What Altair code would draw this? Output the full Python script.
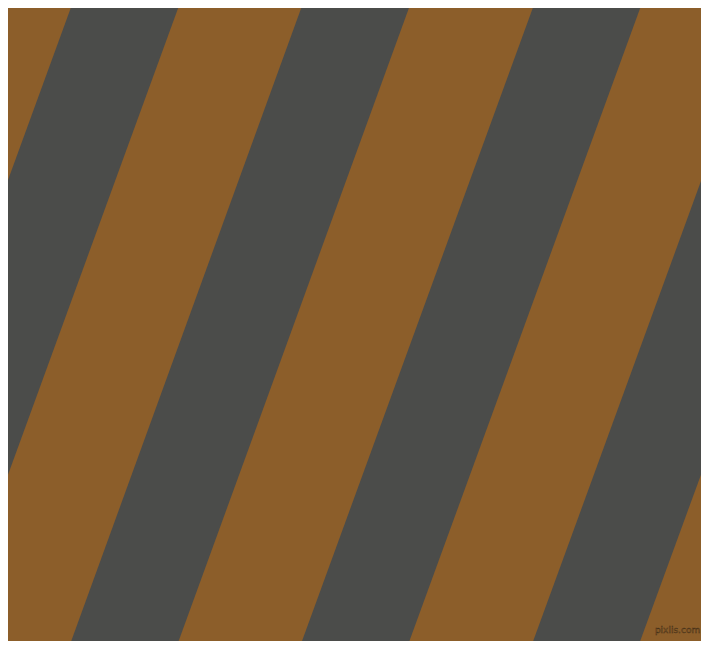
import altair as alt
import pandas as pd

# Gray stripe boundaries (pixel space of the picture), read at top (y=0) and bottom (y=649)
stripe_id = ["B", "C", "D", "E"]
left_top = [64.2, 300.0, 536.9, 773.6]
right_top = [174.1, 410.2, 646.8, 883.5]
left_bottom = [-172.2, 64.7, 300.8, 537.3]
right_bottom = [-62.0, 174.6, 410.7, 646.8]
y_top = 0
y_bottom = 649

BROWN = "#8C5E2A"
GRAY = "#4B4C4A"

rows = []
for i, s in enumerate(stripe_id):
    rows.append({"stripe": s, "y": y_top, "x": left_top[i], "x2": right_top[i]})
    rows.append({"stripe": s, "y": y_bottom, "x": left_bottom[i], "x2": right_bottom[i]})
df = pd.DataFrame(rows)

wm_text = ["pixlis.com"]
wm_x = [685]
wm_y = [638]
wm = pd.DataFrame({"t": wm_text, "x": wm_x, "y": wm_y})

xs = alt.Scale(domain=[0, 709], nice=False, zero=False)
ys = alt.Scale(domain=[0, 649], nice=False, zero=False, reverse=True)

stripes = alt.Chart(df).mark_area(orient="horizontal", color=GRAY, clip=True).encode(
    y=alt.Y("y:Q", scale=ys, axis=None),
    x=alt.X("x:Q", scale=xs, axis=None),
    x2="x2:Q",
    detail="stripe:N",
)

mark = alt.Chart(wm).mark_text(
    font="DejaVu Sans", fontSize=9, fill=BROWN, stroke="#3e2c16", strokeWidth=0.4,
    align="center", baseline="middle", clip=True,
).encode(
    x=alt.X("x:Q", scale=xs, axis=None),
    y=alt.Y("y:Q", scale=ys, axis=None),
    text="t:N",
)

chart = (stripes + mark).properties(
    width=693, height=633, padding=0, background=BROWN,
    autosize=alt.AutoSizeParams(type="none"),
).configure_view(stroke=None, fill=BROWN)

chart.save("out.html", embed_options={"renderer": "svg", "actions": False})
